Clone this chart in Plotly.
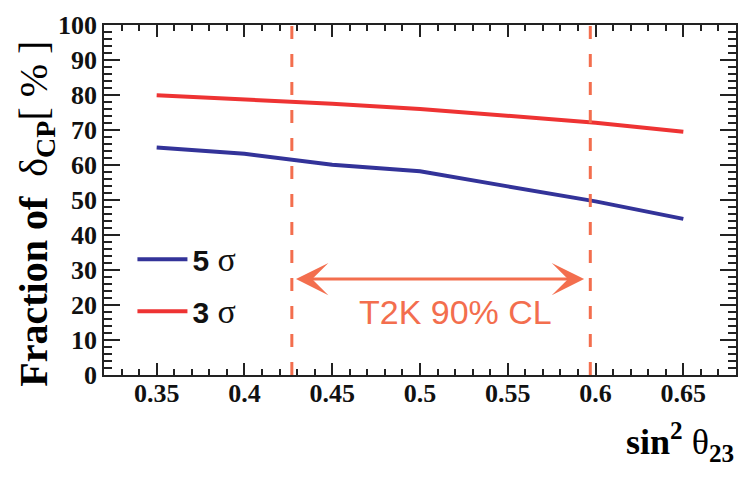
import plotly.graph_objects as go

# sin^2 theta23 scan points
sin2_theta23 = [0.35, 0.40, 0.45, 0.50, 0.55, 0.60, 0.65]
frac_5sigma = [65.0, 63.2, 60.1, 58.2, 53.9, 49.6, 44.6]
frac_3sigma = [79.9, 78.7, 77.5, 76.0, 74.0, 72.1, 69.5]
x_ticks = [0.35, 0.4, 0.45, 0.5, 0.55, 0.6, 0.65]
x_ticktext = ["0.35", "0.4", "0.45", "0.5", "0.55", "0.6", "0.65"]
y_ticks = [0, 10, 20, 30, 40, 50, 60, 70, 80, 90, 100]

# T2K 90% CL band edges, arrow and label
t2k_low = 0.427
t2k_high = 0.597
arrow_left = 0.4285
arrow_right = 0.5935
arrow_y = 27.4
cl_label_x = 0.5205
cl_label_y = 18.0

serif = "Liberation Serif"
sans = "Liberation Sans"
coral = "#F36E4E"

sig = "<span style='font-family:Liberation Serif;font-size:34px'>σ</span>"

fig = go.Figure()
fig.add_trace(go.Scatter(x=sin2_theta23, y=frac_5sigma, mode="lines",
                         line=dict(color="#333399", width=4),
                         name="<b>5</b> " + sig, legendgroup="a"))
fig.add_trace(go.Scatter(x=sin2_theta23, y=frac_3sigma, mode="lines",
                         line=dict(color="#EE3333", width=4),
                         name="<b>3</b> " + sig, legendgroup="b"))

# dashed CL lines
for xv in [t2k_low, t2k_high]:
    fig.add_shape(type="line", xref="x", yref="paper", x0=xv, x1=xv, y0=0, y1=1,
                  line=dict(color=coral, width=3, dash="13px,15px"))

# double headed arrow
fig.add_annotation(x=arrow_right, y=arrow_y, ax=arrow_left, ay=arrow_y,
                   xref="x", yref="y", axref="x", ayref="y",
                   text="", showarrow=True, arrowhead=3, startarrowhead=3,
                   arrowside="end+start", arrowsize=1.8, startarrowsize=1.8,
                   arrowwidth=3, arrowcolor=coral)
fig.add_annotation(x=cl_label_x, y=cl_label_y, xref="x", yref="y",
                   text="T2K 90% CL", showarrow=False,
                   font=dict(family=sans, size=34, color=coral))

# axis titles
fig.add_annotation(xref="paper", yref="paper", x=-0.108, y=0.46, xanchor="center", yanchor="middle",
                   textangle=-90, showarrow=False,
                   text="<b>Fraction of </b> δ<sub><b>CP</b></sub>[ % ]",
                   font=dict(family=serif, size=40, color="black"))
fig.add_annotation(xref="paper", yref="paper", x=1.0, y=-0.113, xanchor="right", yanchor="top",
                   showarrow=False,
                   text="<b>sin<sup>2</sup></b> θ<sub><b>23</b></sub>",
                   font=dict(family=serif, size=36, color="black"))

axis_common = dict(showgrid=False, zeroline=False, showline=True, linecolor="#222222",
                   linewidth=1.5, mirror="ticks", ticks="inside", tickcolor="#222222",
                   tickwidth=1.5, automargin=False,
                   tickfont=dict(family=serif, size=26, color="#111111", weight="bold"))

fig.update_xaxes(range=[0.32, 0.68], ticklen=12, ticklabelstandoff=-6,
                 tickvals=x_ticks, ticktext=x_ticktext,
                 minor=dict(ticks="inside", dtick=0.01, tick0=0.32, ticklen=6,
                            tickcolor="#222222", tickwidth=1.5),
                 **axis_common)
fig.update_yaxes(range=[0, 100], ticklen=16,
                 tickvals=y_ticks,
                 minor=dict(ticks="inside", dtick=2, ticklen=8,
                            tickcolor="#222222", tickwidth=1.5),
                 **axis_common)

fig.update_layout(width=748, height=488,
                  margin=dict(l=96, r=20, t=17, b=121, autoexpand=False),
                  plot_bgcolor="white", paper_bgcolor="white",
                  showlegend=True,
                  legend=dict(x=0.045, y=0.405, xanchor="left", yanchor="top",
                              bgcolor="rgba(0,0,0,0)", tracegroupgap=10, itemwidth=50,
                              font=dict(family=sans, size=30, color="#111111")))

fig.write_html("out.html")
